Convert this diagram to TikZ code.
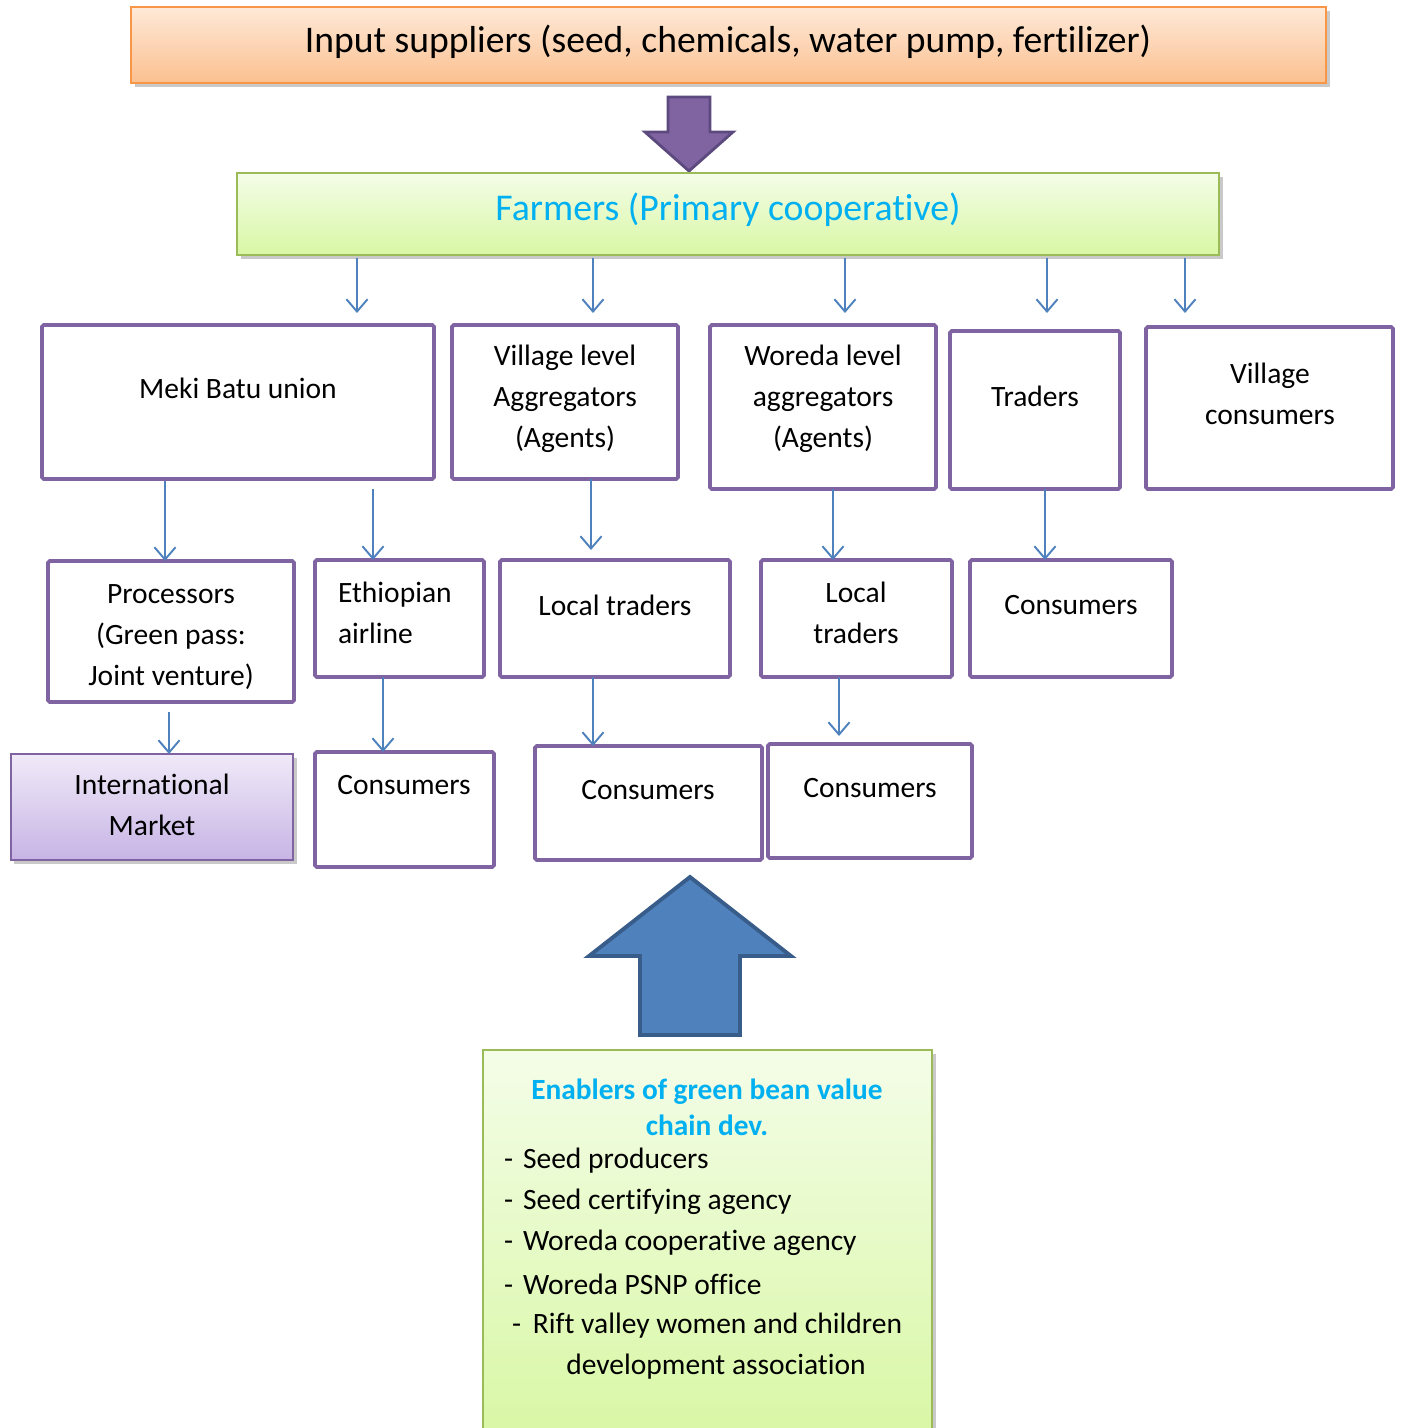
\documentclass[tikz,border=0pt]{standalone}
\usepackage{fontspec}
\setmainfont[Ligatures=NoCommon]{Carlito}
\usetikzlibrary{arrows.meta,fit,shadows}
\definecolor{boxpurple}{HTML}{8064A2}
\definecolor{darkpurple}{HTML}{5C4A7E}
\definecolor{arrowblue}{HTML}{4F81BD}
\definecolor{darkblue}{HTML}{385D8A}
\definecolor{cyantext}{HTML}{00B0F0}
\definecolor{orangeborder}{HTML}{F79646}
\definecolor{greenborder}{HTML}{9BBB59}
\definecolor{orangetop}{HTML}{FEE9D8}
\definecolor{orangebot}{HTML}{FBC08F}
\definecolor{greentop}{HTML}{F4FDE8}
\definecolor{greenbot}{HTML}{D8F7A4}
\definecolor{lilactop}{HTML}{F0EAF8}
\definecolor{lilacbot}{HTML}{C7B4E5}
\begin{document}
\begin{tikzpicture}[x=0.02cm,y=-0.02cm,
  every node/.style={inner sep=0pt, outer sep=0pt},
  pbox/.style={draw=boxpurple, line width=2.2pt, rounded corners=1pt},
  txt/.style={font=\fontsize{16.8}{23.3}\selectfont, align=center, text=black},
  ltxt/.style={font=\fontsize{16.8}{23.3}\selectfont, align=left, text=black},
  flow/.style={draw=arrowblue, line width=1.1pt, -{Straight Barb[length=7pt,width=12pt,line width=1.1pt]}},
  shad/.style={drop shadow={shadow xshift=0.07cm, shadow yshift=-0.07cm, opacity=0.3, fill=black!70}},
]
\useasboundingbox (0,0) rectangle (1402,1428);

% Input suppliers
\node[fit={(131,7) (1326,83)}, draw=orangeborder, line width=1.1pt, top color=orangetop, bottom color=orangebot, shad] (input) {};
\node[font=\fontsize{21.4}{25}\selectfont] (inputt) at (728,42) {Input suppliers (seed, chemicals, water pump, fertilizer)};

% purple block arrow
\draw[fill=boxpurple, draw=darkpurple, line width=1.6pt, line join=miter]
  (668,97) -- (710,97) -- (710,132) -- (733,132) -- (689,171) -- (645,132) -- (668,132) -- cycle;

% Farmers
\node[fit={(237,173) (1219,255)}, draw=greenborder, line width=1.1pt, top color=greentop, bottom color=greenbot, shad] (farm) {};
\node[font=\fontsize{21.5}{25}\selectfont, text=cyantext] (farmt) at (728,210) {Farmers (Primary cooperative)};

% Row 1 boxes
\node[pbox, fit={(42,325) (434,479)}] (meki) {};
\node[txt] at (238,388) {Meki Batu union};
\node[pbox, fit={(452,325) (678,479)}] (vla) {};
\node[txt] at (565,399) {Village level\\Aggregators\\(Agents)};
\node[pbox, fit={(710,325) (936,489)}] (wla) {};
\node[txt] at (823,399) {Woreda level\\aggregators\\(Agents)};
\node[pbox, fit={(950,331) (1120,489)}] (trad) {};
\node[txt] at (1035,396) {Traders};
\node[pbox, fit={(1146,327) (1393,489)}] (vcons) {};
\node[txt] at (1270,394) {Village\\consumers};

% arrows from farmers
\coordinate (f1) at (357,258);
\coordinate (f2) at (593,258);
\coordinate (f3) at (845,258);
\coordinate (f4) at (1047,258);
\coordinate (f5) at (1185,258);
\draw[flow] (f1) -- (357,313);
\draw[flow] (f2) -- (593,313);
\draw[flow] (f3) -- (845,313);
\draw[flow] (f4) -- (1047,313);
\draw[flow] (f5) -- (1185,313);

% Row 2 boxes
\node[pbox, fit={(48,561) (294,702)}] (proc) {};
\node[txt] at (171,637) {Processors\\(Green pass:\\Joint venture)};
\node[pbox, fit={(315,560) (484,677)}] (eth) {};
\node[ltxt, anchor=west] at (338,613) {Ethiopian\\airline};
\node[pbox, fit={(500,560) (730,677)}] (lt1) {};
\node[txt] at (615,605) {Local traders};
\node[pbox, fit={(761,560) (952,677)}] (lt2) {};
\node[txt] at (856,613) {Local\\traders};
\node[pbox, fit={(970,560) (1172,677)}] (cons1) {};
\node[txt] at (1071,605) {Consumers};

% arrows row 1 -> row 2
\draw[flow] (165,481) -- (proc.north -| 165,0);
\draw[flow] (373,489) -- (eth.north -| 373,0);
\draw[flow] (vla.south -| 591,0) -- (591,550);
\draw[flow] (wla.south -| 833,0) -- (lt2.north -| 833,0);
\draw[flow] (trad.south -| 1045,0) -- (cons1.north -| 1045,0);

% Row 3 boxes
\node[fit={(11,754) (293,860)}, draw=boxpurple, line width=1.1pt, top color=lilactop, bottom color=lilacbot, shad] (intl) {};
\node[txt] at (152,805) {International\\Market};
\node[pbox, fit={(315,752) (494,867)}] (cons2) {};
\node[txt] at (404,785) {Consumers};
\node[pbox, fit={(535,746) (762,860)}] (cons3) {};
\node[txt] at (648,790) {Consumers};
\node[pbox, fit={(768,744) (972,858)}] (cons4) {};
\node[txt] at (870,788) {Consumers};

% arrows row 2 -> row 3
\draw[flow] (169,712) -- (intl.north -| 169,0);
\draw[flow] (eth.south -| 383,0) -- (cons2.north -| 383,0);
\draw[flow] (lt1.south -| 593,0) -- (cons3.north -| 593,0);
\draw[flow] (lt2.south -| 839,0) -- (839,736);

% big blue arrow
\draw[fill=arrowblue, draw=darkblue, line width=2.2pt, line join=miter]
  (690,877) -- (791,956) -- (740,956) -- (740,1035) -- (640,1035) -- (640,956) -- (589,956) -- cycle;

% Enablers box
\node[fit={(483,1050) (932,1440)}, draw=greenborder, line width=1.1pt, top color=greentop, bottom color=greenbot, shad] (enab) {};
\node[font=\fontsize{16.7}{20.4}\selectfont\bfseries, text=cyantext, align=center] (enabt) at (707,1107) {Enablers of green bean value\\chain dev.};
\node[ltxt, anchor=west] at (504,1161) {-\hspace{0.34em}Seed producers};
\node[ltxt, anchor=west] at (504,1202) {-\hspace{0.34em}Seed certifying agency};
\node[ltxt, anchor=west] at (504,1243) {-\hspace{0.34em}Woreda cooperative agency};
\node[ltxt, anchor=west] at (504,1284) {-\hspace{0.34em}Woreda PSNP office};
\node[ltxt, anchor=west] at (512,1326) {-\hspace{0.4em}Rift valley women and children};
\node[txt] at (716,1367) {development association};
\end{tikzpicture}
\end{document}
